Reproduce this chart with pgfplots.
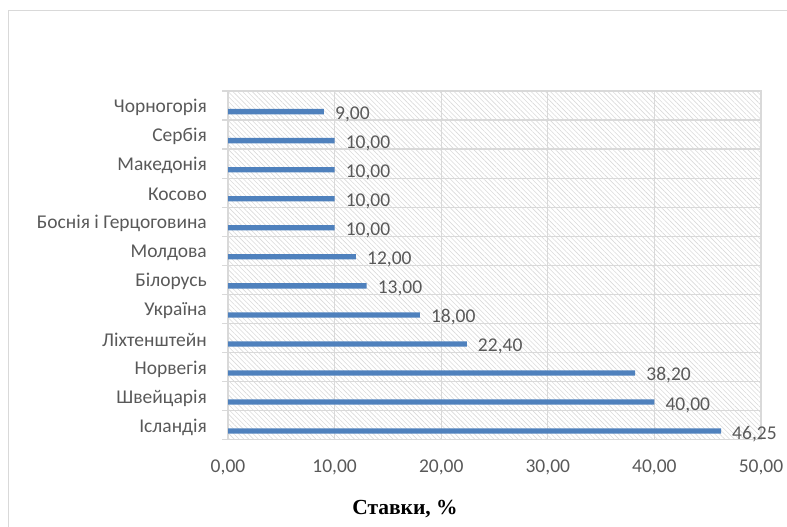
\documentclass[border=0pt]{standalone}
\usepackage{fontspec}
\setmainfont{Carlito}
\newfontfamily\titlefont{Liberation Serif}
\usepackage{pgfplots}
\pgfplotsset{compat=1.18}
\usetikzlibrary{patterns.meta}
\definecolor{barblue}{HTML}{4F81BD}
\definecolor{gridgray}{HTML}{D9D9D9}
\definecolor{hatchgray}{HTML}{DADADA}
\definecolor{labelgray}{HTML}{595959}
\definecolor{framegray}{HTML}{D9D9D9}
\begin{document}
\begin{tikzpicture}[x=1bp,y=1bp]
\path[use as bounding box] (0,0) rectangle (787,527);
\draw[framegray, line width=1bp] (8,0) -- (8,516.5) -- (787,516.5);
\begin{axis}[
  at={(228bp,87.5bp)}, anchor=south west,
  width=533bp, height=348.5bp, scale only axis,
  xmin=0, xmax=50, ymin=-0.5, ymax=11.5,
  enlargelimits=false, clip=false,
  axis background/.style={pattern={Lines[angle=-45,distance=3.4bp,line width=0.6bp]}, pattern color=hatchgray},
  axis line style={draw=gridgray, line width=1.2bp},
  xtick={0,10,20,30,40,50},
  ytick={0,1,2,3,4,5,6,7,8,9,10,11},
  minor ytick={-0.5,0.5,1.5,2.5,3.5,4.5,5.5,6.5,7.5,8.5,9.5,10.5,11.5},
  ytick pos=left, xtick pos=bottom,
  yticklabels={Ісландія,Швейцарія,Норвегія,Ліхтенштейн,Україна,Білорусь,Молдова,Боснія і Герцоговина,Косово,Македонія,Сербія,Чорногорія},
  xmajorgrids, yminorgrids,
  major grid style={draw=gridgray, line width=1.2bp},
  minor grid style={draw=gridgray, line width=1.2bp},
  tick align=outside,
  major tick length=0pt, minor tick length=6bp,
  tick style={draw=gridgray, line width=1.2bp},
  /pgf/number format/.cd, fixed, fixed zerofill, precision=2, use comma, assume math mode=true,
  /pgfplots/.cd,
  tick label style={font=\fontsize{19.5bp}{22bp}\selectfont, text=labelgray},
  xticklabel style={anchor=base, inner sep=0pt, yshift=-33bp},
  yticklabel style={anchor=east, inner sep=0pt, xshift=-21bp, yshift=-2bp},
  xlabel={Ставки, \%},
  xlabel style={at={(axis description cs:0.5,0)}, anchor=base, inner sep=0pt, yshift=-75.5bp, xshift=-89.5bp, font=\titlefont\bfseries\fontsize{21.5bp}{24bp}\selectfont, text=black},
]
\addplot[xbar, bar width=5.3bp, bar shift=0pt, fill=barblue, draw=none,
  point meta=x,
  nodes near coords,
  nodes near coords style={anchor=base west, inner sep=0pt, xshift=11bp, yshift=-8bp, text=labelgray, font=\fontsize{19.5bp}{22bp}\selectfont}]
coordinates {(46.25,-0.21) (40,0.79) (38.2,1.79) (22.4,2.79) (18,3.79) (13,4.79) (12,5.79) (10,6.79) (10,7.79) (10,8.79) (10,9.79) (9,10.79)};
\end{axis}
\end{tikzpicture}
\end{document}
